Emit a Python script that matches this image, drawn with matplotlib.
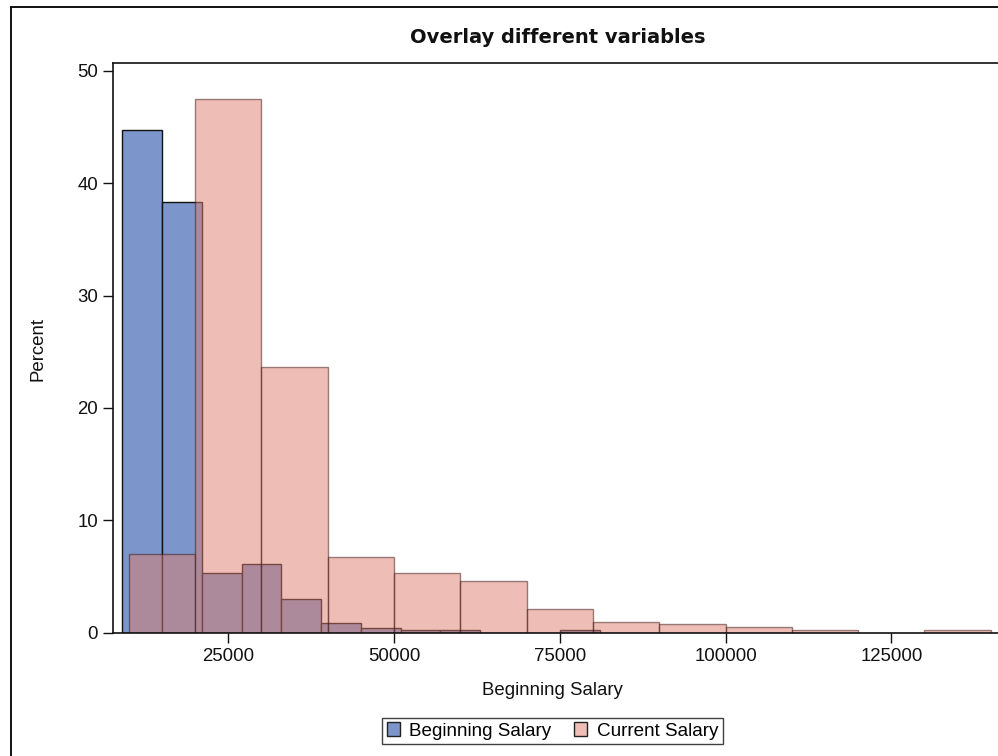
import numpy as np
import matplotlib
matplotlib.use('Agg')
import matplotlib.pyplot as plt
from matplotlib.patches import Patch
from matplotlib.lines import Line2D

plt.rcParams['font.family'] = ['Liberation Sans', 'DejaVu Sans']

# ## Data (percent of employees per bin)

# Beginning salary: bins of width 6000 starting at 9000
begin_edges = [9000, 15000, 21000, 27000, 33000, 39000, 45000, 51000,
               57000, 63000, 69000, 75000, 81000]
begin_pct = [44.7, 38.3, 5.27, 6.12, 3.0, 0.9, 0.46, 0.21, 0.21, 0.0, 0.0, 0.21]

# Current salary: bins of width 10000 starting at 10000
current_edges = [10000, 20000, 30000, 40000, 50000, 60000, 70000, 80000,
                 90000, 100000, 110000, 120000, 130000, 140000]
current_pct = [6.96, 47.47, 23.63, 6.7, 5.27, 4.56, 2.13, 0.93, 0.8, 0.5,
               0.21, 0.0, 0.21]

x_ticks = [25000, 50000, 75000, 100000, 125000]
y_ticks = [0, 10, 20, 30, 40, 50]

BLUE = '#7C95CA'
RED = '#DE7E6F'

fig = plt.figure(figsize=(9.98, 7.56), dpi=100)
ax = fig.add_axes([0.1135, 0.1631, 1.0 - 0.1135, 0.9163 - 0.1631])


def draw_hist(edges, pct, **kw):
    edges = np.asarray(edges, dtype=float)
    widths = np.diff(edges)
    pct = np.asarray(pct)
    keep = pct > 0
    ax.bar(edges[:-1][keep], pct[keep], width=widths[keep], align='edge', **kw)


draw_hist(begin_edges, begin_pct, color=BLUE, edgecolor='#111111', linewidth=1.0)
draw_hist(current_edges, current_pct, color=RED, alpha=0.5,
          edgecolor='#3a1410', linewidth=1.0)

ax.set_xlim(7655, 141090)
ax.set_ylim(0, 50.68)
ax.set_xticks(x_ticks)
ax.set_yticks(y_ticks)
ax.tick_params(direction='out', length=7, width=1.0, labelsize=13.4, pad=4,
               colors='#111111')
for s in ['left', 'top', 'bottom']:
    ax.spines[s].set_linewidth(1.2)
    ax.spines[s].set_color('#111111')
ax.spines['right'].set_visible(False)

fig.text(0.5585, 0.95, 'Overlay different variables', ha='center', va='center',
         fontsize=14, fontweight='bold', color='#111111',
         family=['DejaVu Sans'])
fig.text(0.5535, 0.087, 'Beginning Salary', ha='center', va='center',
         fontsize=13.4, color='#111111')
fig.text(0.0385, 0.539, 'Percent', ha='center', va='center', rotation=90,
         fontsize=13.4, color='#111111')

handles = [Patch(facecolor=BLUE, edgecolor='#222222', linewidth=1.0),
           Patch(facecolor='#EEBEB7', edgecolor='#222222', linewidth=1.0)]
leg = fig.legend(handles, ['Beginning Salary', 'Current Salary'],
                 loc='center', bbox_to_anchor=(0.5535, 0.033), ncol=2,
                 fontsize=13.6, frameon=True, fancybox=False,
                 handlelength=0.7, handleheight=0.7, handletextpad=0.5,
                 columnspacing=1.2, borderpad=0.25, borderaxespad=0)
leg.get_frame().set_edgecolor('#111111')
leg.get_frame().set_linewidth(1.0)

# outer border (left and top visible, rest cropped)
fig.add_artist(Line2D([10.7 / 998, 10.7 / 998], [0, 1 - 6.7 / 756],
                      transform=fig.transFigure, color='#111111', lw=1.4))
fig.add_artist(Line2D([10.7 / 998, 1.0], [1 - 6.7 / 756, 1 - 6.7 / 756],
                      transform=fig.transFigure, color='#111111', lw=1.4))

fig.savefig('out.png', dpi=100)
